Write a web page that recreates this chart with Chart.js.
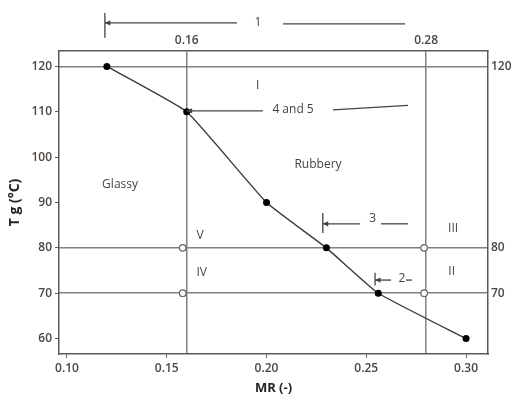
<!DOCTYPE html>
<html>
<head>
<meta charset="utf-8">
<script src="https://cdn.jsdelivr.net/npm/chart.js@4/dist/chart.umd.min.js"></script>
<style>
  html, body { margin: 0; padding: 0; background: #fff; }
  #wrap { width: 511px; height: 399px; }
</style>
</head>
<body>
<div id="wrap"><canvas id="tgChart"></canvas></div>
<script>
// Дані кривої Tg(MR)
const mrValues = [0.12, 0.16, 0.20, 0.23, 0.256, 0.30];
const tgValues = [120, 110, 90, 80, 70, 60];

// Відкриті кружки на межах зон
const openMr = [0.158, 0.158, 0.279, 0.279];
const openTg = [80, 70, 80, 70];

// Мітки осей
const bottomTicks = [0.10, 0.15, 0.20, 0.25, 0.30];
const topTicks = [0.16, 0.28];
const leftTicks = [60, 70, 80, 90, 100, 110, 120];
const rightTicks = [70, 80, 120];

// Підписи зон (в координатах даних)
const noteText = ['Glassy', 'Rubbery', 'I', '4 and 5', 'V', 'IV', 'III', 'II', '3', '2', '1'];
const noteMr   = [0.1266, 0.2258, 0.1956, 0.2133, 0.1667, 0.1675, 0.2935, 0.2928, 0.2532, 0.2679, 0.1957];
const noteTg   = [93.9, 98.3, 115.7, 110.4, 82.8, 74.5, 84.3, 74.7, 86.4, 73.2, 129.6];

// Стрілки: [x1, y1, x2, y2, стрілка на кінці]
const arrows = [
  [0.1190, 131.8, 0.1190, 126.3, false],
  [0.1852, 129.6, 0.1190, 129.6, true],
  [0.2083, 129.4, 0.2694, 129.4, false],
  [0.1982, 110.2, 0.1600, 110.2, true],
  [0.2333, 110.4, 0.2709, 111.4, false],
  [0.2282, 87.7, 0.2282, 83.3, false],
  [0.2469, 85.3, 0.2282, 85.3, true],
  [0.2574, 85.3, 0.2709, 85.3, false],
  [0.2544, 74.5, 0.2544, 71.7, false],
  [0.2624, 72.9, 0.2544, 72.9, true],
  [0.2699, 72.9, 0.2729, 72.9, false]
];

const tickColor = '#4d4540';
const refColor = '#808080';
const frameColor = '#5a5a5a';
const font = 'Open Sans';

const fixSize = (w, h) => (scale) => {
  if (w) scale.width = w;
  if (h) scale.height = h;
};

const notesPlugin = {
  id: 'notes',
  beforeDraw(chart) {
    const c = chart.ctx;
    c.save();
    c.fillStyle = '#fff';
    c.fillRect(0, 0, chart.width, chart.height);
    c.restore();
  },
  afterDatasetsDraw(chart) {
    const c = chart.ctx;
    const xs = chart.scales.x, ys = chart.scales.y;
    c.save();
    c.fillStyle = '#444';
    c.font = '12px "' + font + '"';
    c.textAlign = 'center';
    c.textBaseline = 'middle';
    noteText.forEach((t, i) => {
      c.fillText(t, xs.getPixelForValue(noteMr[i]), ys.getPixelForValue(noteTg[i]));
    });
    c.strokeStyle = '#444';
    c.fillStyle = '#444';
    c.lineWidth = 1.3;
    arrows.forEach(a => {
      const x1 = xs.getPixelForValue(a[0]), y1 = ys.getPixelForValue(a[1]);
      const x2 = xs.getPixelForValue(a[2]), y2 = ys.getPixelForValue(a[3]);
      c.beginPath();
      c.moveTo(x1, y1);
      c.lineTo(x2, y2);
      c.stroke();
      if (a[4]) {
        const ang = Math.atan2(y2 - y1, x2 - x1);
        c.beginPath();
        c.moveTo(x2, y2);
        c.lineTo(x2 - 6 * Math.cos(ang - 0.45), y2 - 6 * Math.sin(ang - 0.45));
        c.lineTo(x2 - 6 * Math.cos(ang + 0.45), y2 - 6 * Math.sin(ang + 0.45));
        c.closePath();
        c.fill();
      }
    });
    c.restore();
  }
};

const tgData = {
  datasets: [
    {
      label: 'Tg',
      data: mrValues.map((v, i) => ({ x: v, y: tgValues[i] })),
      showLine: true,
      borderColor: '#3a3a3a',
      borderWidth: 1.4,
      tension: 0.12,
      pointRadius: 3.5,
      pointBackgroundColor: '#000',
      pointBorderColor: '#000',
      pointBorderWidth: 0
    },
    {
      label: 'boundary',
      data: openMr.map((v, i) => ({ x: v, y: openTg[i] })),
      showLine: false,
      pointRadius: 3.3,
      pointBackgroundColor: '#fff',
      pointBorderColor: '#666',
      pointBorderWidth: 1.2
    }
  ]
};

const tickFont = { family: font, size: 12, weight: '600' };

const tgConfig = {
  type: 'scatter',
  data: tgData,
  plugins: [notesPlugin],
  options: {
    responsive: true,
    maintainAspectRatio: false,
    animation: false,
    layout: { padding: 0 },
    plugins: {
      legend: { display: false },
      tooltip: { enabled: false }
    },
    scales: {
      x: {
        type: 'linear',
        position: 'bottom',
        min: 0.096,
        max: 0.311,
        afterBuildTicks: s => { s.ticks = bottomTicks.map(v => ({ value: v })); },
        afterFit: fixSize(0, 45),
        ticks: {
          color: tickColor,
          font: tickFont,
          padding: 3,
          callback: v => v.toFixed(2)
        },
        grid: { drawOnChartArea: false, tickLength: 4, color: frameColor, lineWidth: 1 },
        border: { display: true, color: frameColor, width: 1.5 },
        title: {
          display: true,
          text: 'MR (-)',
          color: '#222',
          font: { family: font, size: 13, weight: 'bold' },
          padding: { top: 0, bottom: 3 }
        }
      },
      x2: {
        type: 'linear',
        position: 'top',
        min: 0.096,
        max: 0.311,
        afterBuildTicks: s => { s.ticks = topTicks.map(v => ({ value: v })); },
        afterFit: fixSize(0, 51),
        ticks: {
          color: tickColor,
          font: tickFont,
          padding: 3,
          callback: v => v.toFixed(2)
        },
        grid: { drawOnChartArea: true, drawTicks: false, color: refColor, lineWidth: 1.5 },
        border: { display: true, color: frameColor, width: 1.5 }
      },
      y: {
        type: 'linear',
        position: 'left',
        min: 56.6,
        max: 123.4,
        afterBuildTicks: s => { s.ticks = leftTicks.map(v => ({ value: v })); },
        afterFit: fixSize(59, 0),
        ticks: {
          color: tickColor,
          font: tickFont,
          padding: 3
        },
        grid: { drawOnChartArea: false, tickLength: 4, color: frameColor, lineWidth: 1 },
        border: { display: true, color: frameColor, width: 1.5 },
        title: {
          display: true,
          text: 'T g (°C)',
          color: '#222',
          font: { family: font, size: 14, weight: 'bold' },
          padding: { top: 7, bottom: 0 }
        }
      },
      y2: {
        type: 'linear',
        position: 'right',
        min: 56.6,
        max: 123.4,
        afterBuildTicks: s => { s.ticks = rightTicks.map(v => ({ value: v })); },
        afterFit: fixSize(23, 0),
        ticks: {
          color: tickColor,
          font: tickFont,
          padding: 3
        },
        grid: { drawOnChartArea: true, drawTicks: false, color: refColor, lineWidth: 1.5 },
        border: { display: true, color: frameColor, width: 1.5 }
      }
    }
  }
};

const ctx = document.getElementById('tgChart').getContext('2d');
new Chart(ctx, tgConfig);
</script>
</body>
</html>
